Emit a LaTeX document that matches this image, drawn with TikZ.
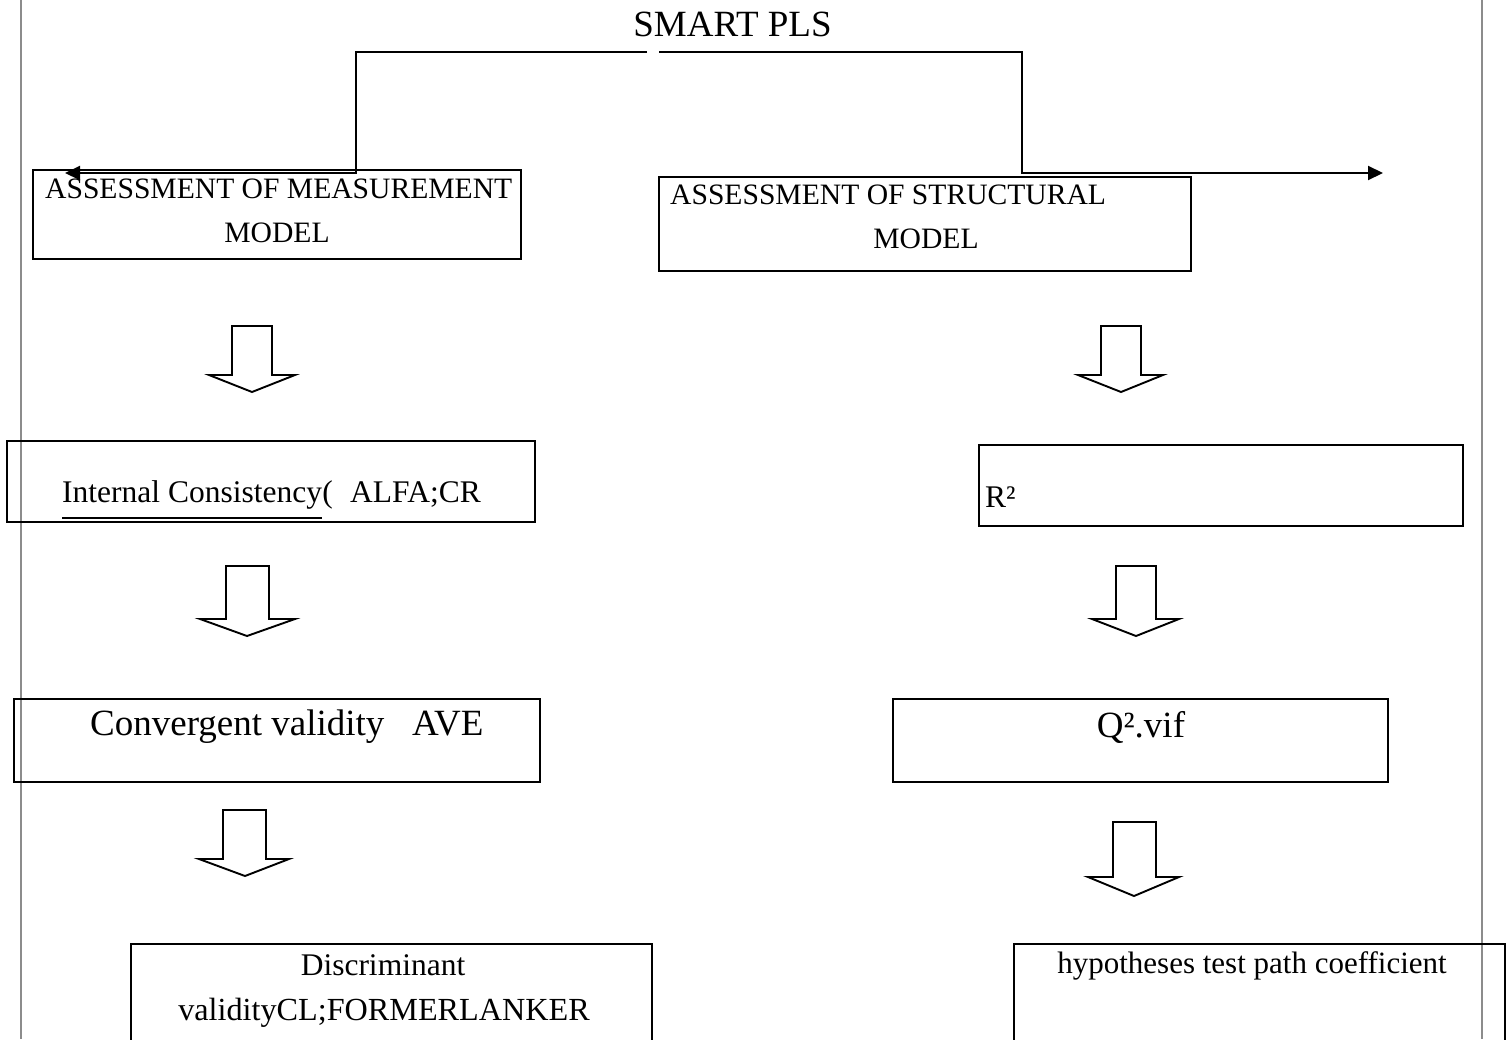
\documentclass[tikz,border=0pt]{standalone}
\usepackage{fontspec}
\setmainfont{Liberation Serif}
\usetikzlibrary{arrows.meta}
\definecolor{pagegray}{gray}{0.55}
% hollow down block arrow: shaft left, shaft right, top, head base, head left, head right, tip x, tip y
\newcommand\blockarr[8]{%
  \draw[barrow] (#1,#3) -- (#1,#4) -- (#5,#4) -- (#7,#8) -- (#6,#4) -- (#2,#4) -- (#2,#3) -- cycle;}
\begin{document}
\begin{tikzpicture}[x=1pt,y=-1pt,
  pageline/.style={draw=pagegray, line width=1.8pt},
  box/.style={draw, line width=2.6pt, rectangle, inner sep=0pt},
  conn/.style={draw, line width=2pt, -{Triangle[length=15pt,width=14pt]}},
  barrow/.style={draw, line width=1.9pt, line join=miter, fill=white},
  txt/.style={inner sep=0pt, font=\fontsize{31.5}{37}\selectfont},
  caps/.style={inner sep=0pt, font=\fontsize{29.6}{36}\selectfont},
  big/.style={inner sep=0pt, font=\fontsize{37}{44}\selectfont}]
\useasboundingbox (0,0) rectangle (1509,1039);
\clip (0,0) rectangle (1509,1039);
\fill[white] (0,0) rectangle (1509,1039);

% page margins
\draw[pageline] (21,0) -- (21,1039);
\draw[pageline] (1482,0) -- (1482,1039);

% title
\node[big, anchor=base] (title) at (732.5,36) {SMART PLS};

% boxes
\node[box, minimum width=488pt, minimum height=89pt] (bm) at (277,214.5) {};
\node[box, minimum width=532pt, minimum height=94pt] (bs) at (925,224) {};
\node[box, minimum width=528pt, minimum height=81pt] (bic) at (271,481.5) {};
\node[box, minimum width=484pt, minimum height=81pt] (br) at (1221,485.5) {};
\node[box, minimum width=526pt, minimum height=83pt] (bcv) at (277,740.5) {};
\node[box, minimum width=495pt, minimum height=83pt] (bq) at (1140.5,740.5) {};
\node[box, minimum width=521pt, minimum height=140pt] (bdv) at (391.5,1014) {};
\node[box, minimum width=491pt, minimum height=140pt] (bh) at (1259.5,1014) {};

% box texts
\node[caps, anchor=base west] (tma) at (45,198) {ASSESSMENT OF MEASUREMENT};
\node[caps, anchor=base] (tmb) at (277,242) {MODEL};
\node[caps, anchor=base west] (tsa) at (670,204) {ASSESSMENT OF STRUCTURAL};
\node[caps, anchor=base] (tsb) at (926,248) {MODEL};
\node[txt, anchor=base west] (ica) at (62,502) {Internal Consistency};
\node[txt, anchor=base west] (icb) at (ica.base east) {(\hspace{0.55em}ALFA;CR};
\draw[line width=1.8pt] ([yshift=-16pt]ica.base west) -- ([yshift=-16pt]ica.base east);
\node[txt, anchor=base west] (rsq) at (985,507) {R²};
\node[big, anchor=base west] (cv) at (90,735) {Convergent validity\hspace{0.75em}AVE};
\node[big, anchor=base] (qv) at (1141,737) {Q².vif};
\node[txt, anchor=base] (dva) at (383,975) {Discriminant};
\node[txt, anchor=base, font=\fontsize{32.2}{37}\selectfont] (dvb) at (384,1020) {validityCL;FORMERLANKER};
\node[txt, anchor=base, font=\fontsize{31}{37}\selectfont] (hy) at (1252,973) {hypotheses test path coefficient};

% top connectors
\coordinate (gapL) at (647,52);
\coordinate (gapR) at (659,52);
\coordinate (kneeL) at (356,173);
\coordinate (tipL) at (65,173);
\coordinate (kneeR) at (1022,173);
\coordinate (tipR) at (1383,173);
\draw[conn] (gapL) -| (kneeL) -- (tipL);
\draw[conn] (gapR) -| (kneeR) -- (tipR);

% block arrows
\blockarr{232}{272}{326}{375}{209}{295}{252}{392}
\blockarr{1101}{1141}{326}{375}{1078}{1163}{1121}{392}
\blockarr{226}{269}{566}{619}{200}{295}{247}{636}
\blockarr{1116}{1156}{566}{619}{1092}{1179}{1136}{636}
\blockarr{223}{266}{810}{859}{199}{289}{245}{876}
\blockarr{1113}{1156}{822}{877}{1088}{1179}{1134}{896}
\end{tikzpicture}
\end{document}
